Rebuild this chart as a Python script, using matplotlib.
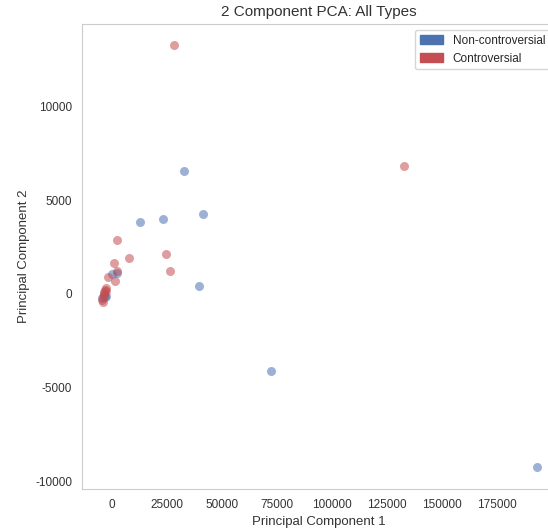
import numpy as np
import matplotlib
matplotlib.use('Agg')
import matplotlib.pyplot as plt
import matplotlib.patches as mpatches
import seaborn as sns

# PCA scores
noncon_pc1 = [32700, 41400, 23200, 12700, 0, 2300, 39500, 72300, 193200, -3200, -4500, -3800, -2700]
noncon_pc2 = [6560, 4270, 4000, 3840, 1070, 1120, 430, -4110, -9230, -160, -210, 0, -100]

con_pc1 = [28200, 132700, 2300, 24500, 7700, 900, 26400, 2300, -1800, 1400, -2700, -3600, -4100, -4100,
           -3000, -4500, -3500, -2500]
con_pc2 = [13280, 6830, 2900, 2130, 1920, 1650, 1230, 1230, 900, 690, 320, 100, -160, -430,
           200, -300, -50, 150]

targets = ['Non-controversial', 'Controversial']
colors = ['#4C72B0', '#C44E52']

sns.set_style('whitegrid')
plt.rcParams['font.family'] = ['Arial', 'Liberation Sans', 'DejaVu Sans']
plt.rcParams['axes.unicode_minus'] = False

fig = plt.figure(figsize=(5.48, 5.31), dpi=100)
ax = fig.add_axes([82/548, 42/531, (556-82)/548, 465/531])

ax.scatter(noncon_pc1, noncon_pc2, c=colors[0], s=42, alpha=0.55, linewidths=0)
ax.scatter(con_pc1, con_pc2, c=colors[1], s=42, alpha=0.55, linewidths=0)

ax.set_xlim(-13600, 201800)
ax.set_ylim(-10400, 14400)
ax.set_xticks([0, 25000, 50000, 75000, 100000, 125000, 150000, 175000])
ax.set_yticks([-10000, -5000, 0, 5000, 10000])
ax.tick_params(labelsize=8.5, colors='#333333')
ax.grid(False)

ax.set_xlabel('Principal Component 1', fontsize=9.5, color='#333333')
ax.set_ylabel('Principal Component 2', fontsize=9.5, color='#333333')
ax.set_title('2 Component PCA: All Types', fontsize=11, color='#333333')

handles = [mpatches.Patch(color=c, label=t) for c, t in zip(colors, targets)]
ax.legend(handles=handles, loc='upper right', fontsize=8.5, frameon=True)

fig.savefig('out.png', dpi=100)
